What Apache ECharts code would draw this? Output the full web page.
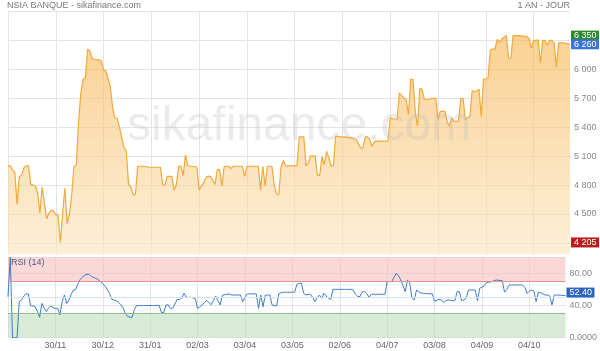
<!DOCTYPE html>
<html>
<head>
<meta charset="utf-8">
<script src="https://cdn.jsdelivr.net/npm/echarts@6/dist/echarts.min.js"></script>
<style>
html, body { margin: 0; padding: 0; background: #fff; }
#chart { width: 600px; height: 351px; }
</style>
</head>
<body>
<div id="chart"></div>
<script>
// dates shown under the chart, one every 21 sessions
var tickLabels = ['30/11', '30/12', '31/01', '02/03', '03/04', '03/05', '02/06', '04/07', '03/08', '04/09', '04/10'];
var labelStep = 21;

// daily close
var closePrices = [
    5000, 5000, 4960, 4930, 4600, 4890, 4900, 4980, 5000, 5000,
    4805, 4800, 4790, 4720, 4510, 4780, 4615, 4450, 4510, 4540,
    4530, 4490, 4490, 4205, 4500, 4770, 4400, 4500, 4700, 4995,
    5000, 5450, 5750, 5900, 5910, 6210, 6190, 6110, 6105, 6100,
    6100, 6090, 5990, 5985, 5900, 5820, 5600, 5495, 5490, 5400,
    5290, 5190, 5150, 4805, 4780, 4700, 4700, 4995, 4995, 4995,
    4995, 4990, 4985, 4985, 4985, 4985, 4985, 4985, 4800, 4800,
    4890, 4890, 4890, 4745, 4805, 4995, 4995, 4900, 5115, 5000,
    4995, 4995, 4990, 4990, 4750, 4790, 4820, 4880, 4890, 4890,
    4850, 4805, 4960, 4960, 4790, 4990, 4995, 4995, 4970, 4995,
    4995, 4995, 4995, 4995, 4890, 4995, 4995, 4995, 4995, 4995,
    4995, 4750, 4995, 4790, 4995, 4995, 4995, 4800, 4710, 4700,
    4985, 5056, 5000, 5000, 5000, 5000, 5000, 5000, 5300, 5300,
    5300, 5000, 5030, 5100, 5100, 5100, 4900, 4900, 5095, 5010,
    5150, 5085, 5000, 5000, 5305, 5305, 5300, 5300, 5300, 5295,
    5295, 5290, 5280, 5270, 5230, 5185, 5185, 5300, 5300, 5275,
    5200, 5250, 5255, 5255, 5255, 5255, 5255, 5255, 5495, 5490,
    5485, 5480, 5755, 5730, 5700, 5690, 5530, 5900, 5895, 5555,
    5410, 5805, 5790, 5690, 5685, 5690, 5700, 5700, 5700, 5480,
    5565, 5565, 5565, 5460, 5410, 5500, 5460, 5460, 5460, 5700,
    5700, 5480, 5500, 5510, 5777, 5770, 5775, 5795, 5510, 5900,
    5900, 5910, 6200, 6210, 6210, 6312, 6280, 6312, 6333, 6350,
    6115, 6115, 6350, 6350, 6350, 6350, 6345, 6345, 6340, 6320,
    6220, 6300, 6300, 6305, 6065, 6300, 6300, 6255, 6300, 6300,
    6275, 6025, 6275, 6275, 6275, 6270, 6265, 6260
];

// RSI (14)
var rsiValues = [
    51, 100, 0, 0, 0, 45, 47, 52, 54.5, 54.5,
    40, 39.5, 38.6, 33, 25.4, 42.7, 37, 32.4, 37, 39.4,
    37.5, 36.5, 36.5, 28.3, 45, 53.1, 42.7, 47, 54, 59.3,
    60.1, 67, 72.6, 75, 78, 78.8, 78.8, 75.9, 75, 73.8,
    72, 69.7, 67, 64, 60, 55, 48, 47, 46, 44,
    41, 37, 30, 26.5, 25.4, 25.4, 35, 40, 40, 40,
    40, 40, 40, 40, 40, 40, 40, 40, 31.2, 31.2,
    40.8, 40.8, 36, 37, 42, 48, 47, 50, 55.2, 50.2,
    50.2, 50.2, 49.5, 48.1, 36.5, 38.5, 40.8, 43.5, 46.1, 44,
    41, 46, 52, 46, 40.8, 53.1, 53.5, 54, 54.5, 53.1,
    53.1, 53.1, 53.1, 53.1, 44.9, 50, 54.5, 54.5, 54.5, 54.5,
    54.5, 36.5, 53.1, 38.6, 53.1, 53.1, 53.1, 40.8, 40, 39.4,
    54.5, 56, 56.6, 56.6, 56.6, 56.6, 56.6, 56.6, 66.4, 67.6,
    67.6, 55.2, 53.1, 54, 54, 50, 44.9, 50, 53, 49,
    55.2, 52, 49, 47.7, 60.1, 60.1, 60.1, 60.1, 60.1, 60.1,
    60.1, 60.1, 60.1, 59.3, 54, 51.2, 51.2, 57.3, 57.3, 55,
    50.2, 54, 54, 54, 54, 54, 54, 54, 69.7, 69.7,
    69.7, 75, 80.1, 77, 72, 65, 57.3, 71.8, 68, 49,
    47, 59.3, 57, 55.5, 55.2, 55, 54.8, 54.5, 54.5, 44.9,
    46.5, 47.7, 47, 43.6, 46, 47, 46.5, 46.1, 46.1, 57.3,
    57.3, 46.1, 47, 49, 59.3, 59.3, 59.3, 59.3, 46.1, 61.4,
    63, 64.5, 68.4, 69, 69.5, 70.5, 71.5, 71.8, 71, 71,
    56.6, 60, 65.6, 65.6, 65.6, 65.6, 65.6, 65.6, 65.6, 62.5,
    55.2, 58, 59.3, 58.1, 44.9, 56.6, 56, 54.5, 53.1, 53.1,
    52, 40.8, 53.1, 53.1, 53, 52.8, 52.5, 52.4
];

var priceGrid = [4200, 4500, 4800, 5100, 5400, 5700, 6000, 6300, 6600];
var priceLabels = [4500, 4800, 5100, 5400, 5700, 6000];

var days = [];
for (var i = 0; i < closePrices.length; i++) days.push(i);

var lastPrice = closePrices[closePrices.length - 1];
var lastRsi = rsiValues[rsiValues.length - 1];
var maxPrice = Math.max.apply(null, closePrices);
var minPrice = Math.min.apply(null, closePrices);

function spaced(v) {
    return String(v).replace(/\B(?=(\d{3})+$)/g, ' ');
}
// coloured value tag sitting right of the plot
function tag(value, color, text, dy) {
    return {
        yAxis: value,
        lineStyle: { color: 'rgba(0,0,0,0)', width: 0 },
        label: {
            show: true,
            position: 'end',
            distance: 1,
            formatter: text,
            color: '#fff',
            fontSize: 9,
            backgroundColor: color,
            padding: [1, 3, 0, 3],
            width: 22,
            offset: [0, dy || 0]
        }
    };
}

var font = "'Liberation Sans', Arial, sans-serif";
var chartDom = document.getElementById('chart');
var myChart = echarts.init(chartDom);
var option = {
    animation: false,
    textStyle: { fontFamily: font },
    title: [
        { text: 'NSIA BANQUE - sikafinance.com', left: 7, top: 1, padding: 0, textStyle: { fontSize: 9, fontWeight: 'normal', color: '#777', fontFamily: font } },
        { text: '1 AN - JOUR', right: 30, top: 1, padding: 0, textStyle: { fontSize: 9, fontWeight: 'normal', color: '#777', fontFamily: font } },
        { text: 'RSI (14)', left: 11, top: 258, padding: 0, textStyle: { fontSize: 9, fontWeight: 'normal', color: '#4a5a80', fontFamily: font } }
    ],
    graphic: [
        {
            type: 'text', left: 127, top: 103, z: 100, silent: true,
            style: { text: 'sikafinance.com', font: '48px ' + font, fill: 'rgba(190,190,190,0.3)' }
        }
    ],
    grid: [
        { left: 8, right: 30, top: 11.5, height: 243 },
        { left: 8, right: 30, top: 257.3, height: 80.4 }
    ],
    xAxis: [
        {
            type: 'category', gridIndex: 0, data: days, boundaryGap: false,
            axisLine: { show: false }, axisTick: { show: false }, axisLabel: { show: false },
            splitLine: { show: true, interval: function (i) { return i % labelStep === 0 }, lineStyle: { color: '#e4e4e4' } }
        },
        {
            type: 'category', gridIndex: 1, data: days, boundaryGap: false,
            axisLine: { show: false }, axisTick: { show: false },
            axisLabel: {
                interval: function (i) { return i > 0 && i % labelStep === 0 },
                formatter: function (v) { return tickLabels[v / labelStep - 1] },
                color: '#666', fontSize: 9, margin: 3
            },
            splitLine: { show: true, interval: function (i) { return i % labelStep === 0 }, lineStyle: { color: '#e4e4e4' } }
        }
    ],
    yAxis: [
        {
            type: 'value', gridIndex: 0, position: 'right', min: 4080, max: 6600,
            axisLine: { show: false },
            axisTick: { show: false, customValues: priceGrid },
            axisLabel: { customValues: priceLabels, formatter: spaced, color: '#888', fontSize: 9, margin: 4 },
            splitLine: { show: true, lineStyle: { color: '#e4e4e4' } }
        },
        {
            type: 'value', gridIndex: 1, position: 'right', min: 0, max: 100, interval: 40,
            axisLine: { show: false }, axisTick: { show: false },
            axisLabel: {
                showMaxLabel: false, color: '#888', fontSize: 9, margin: 4, padding: [0, 0, 4, 0],
                formatter: function (v) { return v === 0 ? '0.0000' : v.toFixed(2) }
            },
            splitLine: { show: true, lineStyle: { color: '#e4e4e4' } }
        }
    ],
    series: [
        {
            name: 'NSIA BANQUE',
            type: 'line',
            xAxisIndex: 0, yAxisIndex: 0,
            data: closePrices,
            showSymbol: false,
            lineStyle: { color: '#f2a93b', width: 1.2 },
            areaStyle: {
                origin: 'start',
                color: new echarts.graphic.LinearGradient(0, 0, 0, 1, [
                    { offset: 0, color: 'rgba(246,178,72,0.85)' },
                    { offset: 1, color: 'rgba(252,226,186,0.8)' }
                ])
            },
            markLine: {
                silent: true, symbol: 'none', animation: false,
                data: [
                    tag(maxPrice, '#2b8a2b', spaced(maxPrice)),
                    tag(lastPrice, '#3d74d8', spaced(lastPrice)),
                    tag(minPrice, '#c11a1a', spaced(minPrice))
                ]
            }
        },
        {
            name: 'RSI (14)',
            type: 'line',
            xAxisIndex: 1, yAxisIndex: 1,
            data: rsiValues,
            showSymbol: false,
            lineStyle: { color: '#3d7cc9', width: 1 },
            markArea: {
                silent: true,
                data: [
                    [{ yAxis: 70, itemStyle: { color: 'rgba(248,190,190,0.6)' } }, { yAxis: 100 }],
                    [{ yAxis: 0, itemStyle: { color: 'rgba(190,222,184,0.6)' } }, { yAxis: 30 }]
                ]
            },
            markLine: {
                silent: true, symbol: 'none', animation: false,
                data: [
                    { yAxis: 70, lineStyle: { color: '#e89090', type: 'solid', width: 1 }, label: { show: false } },
                    { yAxis: 30, lineStyle: { color: '#8fbf8a', type: 'solid', width: 1 }, label: { show: false } },
                    { yAxis: 50, lineStyle: { color: '#d3e3f5', type: 'solid', width: 1 }, label: { show: false } },
                    tag(lastRsi, '#2c64c0', lastRsi.toFixed(2), -3)
                ]
            }
        }
    ]
};
myChart.setOption(option);
</script>
</body>
</html>
